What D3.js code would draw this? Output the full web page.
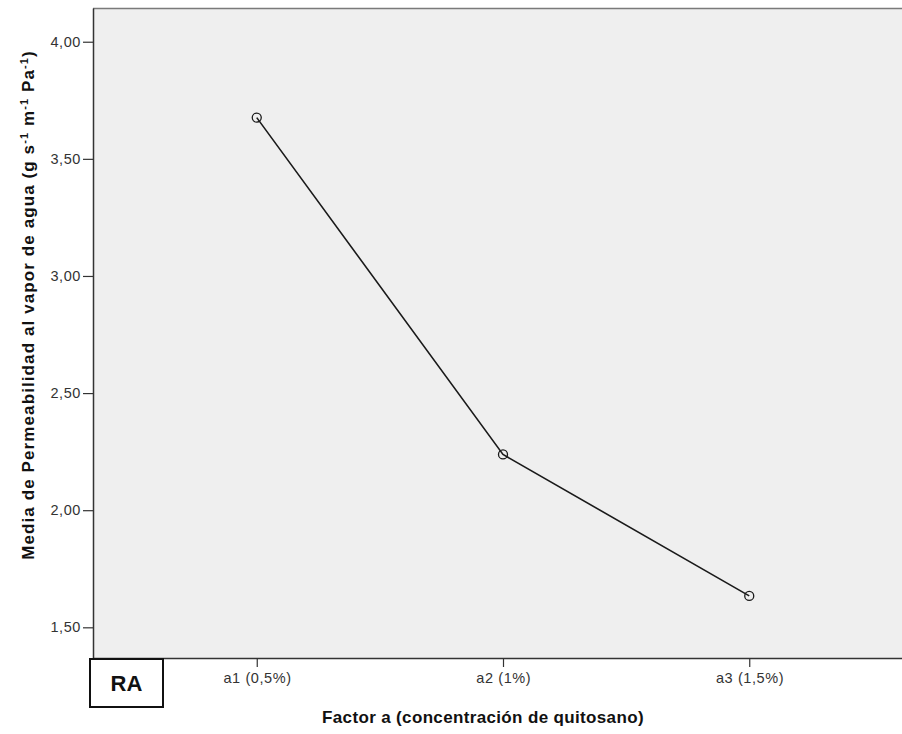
<!DOCTYPE html>
<html>
<head>
<meta charset="utf-8">
<script src="https://cdn.jsdelivr.net/npm/d3@7"></script>
<style>
  html, body { margin: 0; padding: 0; background: #fff; }
  svg { display: block; font-family: "Liberation Sans", Arial, sans-serif; }
</style>
</head>
<body>
<svg id="chart" width="902" height="734"></svg>
<script>
// Mean water vapour permeability by chitosan concentration
const categories = ["a1 (0,5%)", "a2 (1%)", "a3 (1,5%)"];
const means = [3.676, 2.238, 1.634];
const yTicks = [1.5, 2.0, 2.5, 3.0, 3.5, 4.0];
const yDomain = [1.369, 4.144];

const svg = d3.select("#chart");
const plot = { left: 93, right: 913, top: 8, bottom: 658 };
const tickFont = "Liberation Sans, Arial, sans-serif";

const x = d3.scalePoint()
  .domain(categories)
  .range([plot.left, plot.right])
  .padding(0.665);

const y = d3.scaleLinear()
  .domain(yDomain)
  .range([plot.bottom, plot.top]);

// plot background
svg.append("rect")
  .attr("x", plot.left).attr("y", plot.top)
  .attr("width", plot.right - plot.left)
  .attr("height", plot.bottom - plot.top)
  .attr("fill", "#efefef");

// top frame line
svg.append("line")
  .attr("x1", plot.left).attr("x2", plot.right)
  .attr("y1", plot.top + 0.5).attr("y2", plot.top + 0.5)
  .attr("stroke", "#7a7a7a").attr("stroke-width", 1.5);

const fmt = d => d.toFixed(2).replace(".", ",");

// y axis
const yAxis = svg.append("g")
  .attr("transform", `translate(${plot.left},0)`)
  .call(d3.axisLeft(y).tickValues(yTicks).tickFormat(fmt).tickSize(10).tickPadding(2).tickSizeOuter(0));
yAxis.attr("font-family", tickFont);
yAxis.select(".domain").attr("stroke", "#333").attr("stroke-width", 1.5);
yAxis.selectAll(".tick line").attr("stroke", "#333").attr("stroke-width", 1.2);
yAxis.selectAll(".tick text")
  .attr("fill", "#333").attr("font-size", 14.5).attr("letter-spacing", 0.6);

// x axis
const xAxis = svg.append("g")
  .attr("transform", `translate(0,${plot.bottom})`)
  .call(d3.axisBottom(x).tickSize(9).tickPadding(6).tickSizeOuter(0));
xAxis.attr("font-family", tickFont);
xAxis.select(".domain").attr("stroke", "#333").attr("stroke-width", 1.5);
xAxis.selectAll(".tick line").attr("stroke", "#333").attr("stroke-width", 1.2);
xAxis.selectAll(".tick text")
  .attr("fill", "#333").attr("font-size", 14.5).attr("letter-spacing", 0.6)
  .attr("dx", 0.3);

// mean line and markers
const line = d3.line()
  .x((d, i) => x(categories[i]))
  .y(d => y(d));

svg.append("path")
  .datum(means)
  .attr("d", line)
  .attr("fill", "none")
  .attr("stroke", "#1a1a1a")
  .attr("stroke-width", 1.6);

svg.selectAll("circle.pt")
  .data(means)
  .join("circle")
  .attr("class", "pt")
  .attr("cx", (d, i) => x(categories[i]))
  .attr("cy", d => y(d))
  .attr("r", 4.5)
  .attr("fill", "none")
  .attr("stroke", "#1a1a1a")
  .attr("stroke-width", 1.3);

// axis titles
svg.append("text")
  .attr("x", 483).attr("y", 723)
  .attr("text-anchor", "middle")
  .attr("font-size", 17).attr("font-weight", "bold").attr("fill", "#111")
  .attr("letter-spacing", 0.35)
  .text("Factor a (concentración de quitosano)");

const yt = svg.append("text")
  .attr("transform", "translate(34,305) rotate(-90)")
  .attr("text-anchor", "middle")
  .attr("font-size", 17).attr("font-weight", "bold").attr("fill", "#111")
  .attr("letter-spacing", 1.1);
const parts = [
  ["Media de Permeabilidad al vapor de agua (g s", false],
  ["-1", true], [" m", false], ["-1", true], [" Pa", false], ["-1", true], [")", false]
];
parts.forEach(([t, sup]) => {
  yt.append("tspan")
    .attr("font-size", sup ? 11 : 17)
    .attr("baseline-shift", sup ? "super" : null)
    .text(t);
});

// panel tag
const tag = svg.append("g");
tag.append("rect")
  .attr("x", 90).attr("y", 659).attr("width", 73).attr("height", 48)
  .attr("fill", "#fff").attr("stroke", "#111").attr("stroke-width", 2);
tag.append("text")
  .attr("x", 126.5).attr("y", 691)
  .attr("text-anchor", "middle")
  .attr("font-size", 22).attr("font-weight", "bold").attr("fill", "#111")
  .text("RA");
</script>
</body>
</html>
